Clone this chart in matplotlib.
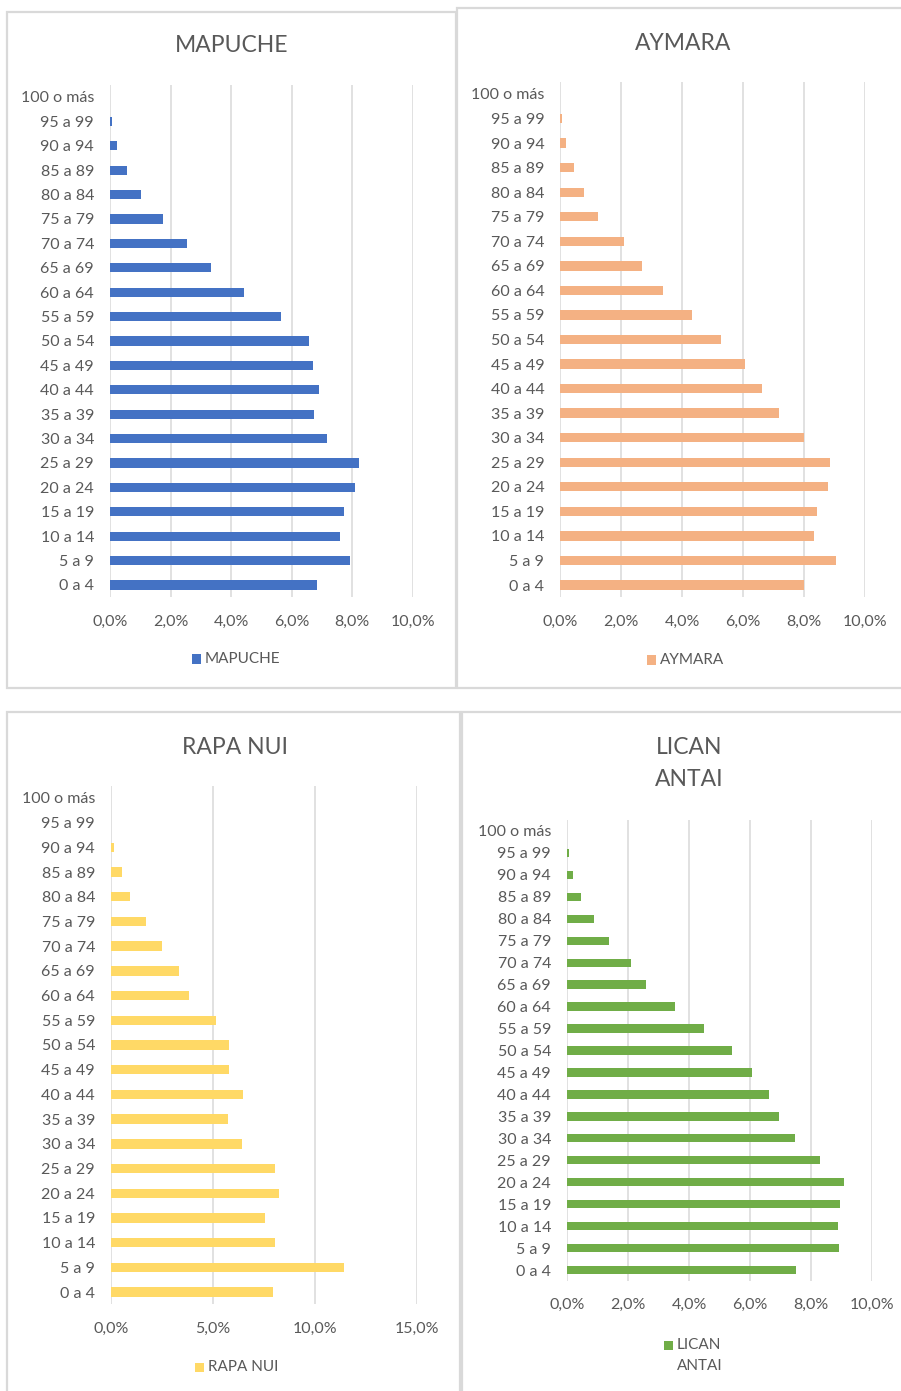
import matplotlib
matplotlib.use("Agg")
import matplotlib.pyplot as plt
from matplotlib.patches import Rectangle
from matplotlib.ticker import FuncFormatter

plt.rcParams['font.family'] = ['Lato', 'DejaVu Sans']

age_groups = ["0 a 4", "5 a 9", "10 a 14", "15 a 19", "20 a 24", "25 a 29",
              "30 a 34", "35 a 39", "40 a 44", "45 a 49", "50 a 54", "55 a 59",
              "60 a 64", "65 a 69", "70 a 74", "75 a 79", "80 a 84", "85 a 89",
              "90 a 94", "95 a 99", "100 o más"]

# Share of population (%) by age group, youngest first
mapuche = [6.84, 7.93, 7.59, 7.74, 8.09, 8.22, 7.16, 6.75, 6.91, 6.72, 6.59,
           5.65, 4.44, 3.34, 2.53, 1.75, 1.03, 0.56, 0.22, 0.05, 0.0]
aymara = [8.02, 9.06, 8.34, 8.43, 8.78, 8.87, 8.02, 7.19, 6.63, 6.07, 5.29,
          4.33, 3.36, 2.67, 2.09, 1.24, 0.78, 0.44, 0.19, 0.04, 0.0]
rapa_nui = [7.94, 11.44, 8.07, 7.56, 8.25, 8.07, 6.43, 5.73, 6.48, 5.78, 5.78,
            5.17, 3.83, 3.34, 2.50, 1.72, 0.92, 0.54, 0.13, 0.0, 0.0]
lican_antai = [7.51, 8.92, 8.89, 8.95, 9.07, 8.30, 7.48, 6.95, 6.63, 6.08, 5.42,
               4.48, 3.54, 2.58, 2.11, 1.37, 0.90, 0.46, 0.21, 0.05, 0.0]

W, H = 901, 1391
TXT = "#595959"
GRID = "#d9d9d9"

fig = plt.figure(figsize=(W / 100, H / 100), dpi=100)
fig.patch.set_facecolor("white")


def fx(x):
    return x / W


def fy(y):
    return 1 - y / H


def frame(x0, y0, x1, y1):
    fig.patches.append(Rectangle((fx(x0), fy(y1)), fx(x1) - fx(x0), fy(y0) - fy(y1),
                                 transform=fig.transFigure, fill=False,
                                 edgecolor=GRID, linewidth=1.6, zorder=0))


pct = FuncFormatter(lambda v, _: f"{v:.1f}%".replace(".", ","))

panels = [
    # name, values, color, frame, axes box (left, top, right, bottom), xmax, step,
    # title x, title lines y, legend (square left, text lines y)
    ("MAPUCHE", mapuche, "#4472C4", (7, 12, 456, 688),
     (110, 84.8, 412.7, 597.2), 10, 2, 232, [46], (192, [659])),
    ("AYMARA", aymara, "#F4B183", (457, 8, 903, 688),
     (560.3, 81.7, 864.7, 597.3), 10, 2, 683, [43], (647, [660])),
    ("RAPA NUI", rapa_nui, "#FFD966", (7, 712, 460, 1393),
     (111, 785.6, 416.5, 1304.4), 15, 5, 234.5, [747], (195, [1367])),
    ("LICAN\nANTAI", lican_antai, "#70AD47", (462, 712, 903, 1393),
     (567, 820, 872, 1281), 10, 2, 689, [747, 780], (664, [1345, 1366])),
]

FS = 11.5
SQ = 9  # legend key size in pixels

for name, vals, color, fr, box, xmax, step, tx, title_ys, leg in panels:
    frame(*fr)
    l, t, r, b = box
    ax = fig.add_axes([fx(l), fy(b), fx(r) - fx(l), fy(t) - fy(b)])
    ypos = list(range(len(age_groups)))
    ax.barh(ypos, vals, height=0.38, color=color, zorder=3)
    ax.set_ylim(-0.5, len(age_groups) - 0.5)
    ax.set_xlim(0, xmax)
    ax.set_xticks(list(range(0, xmax + 1, step)))
    ax.xaxis.set_major_formatter(pct)
    ax.set_yticks(ypos)
    ax.set_yticklabels(age_groups)
    for s in ax.spines.values():
        s.set_visible(False)
    ax.grid(axis="x", color=GRID, linewidth=1.1, zorder=0)
    ax.tick_params(axis="y", length=0, pad=11.5, labelsize=FS, labelcolor=TXT)
    ax.tick_params(axis="x", length=0, pad=12.5, labelsize=FS, labelcolor=TXT)
    ax.set_facecolor("none")

    for line, ty in zip(name.split("\n"), title_ys):
        fig.text(fx(tx), fy(ty), line, ha="center", va="center",
                 fontsize=16.5, color=TXT)

    # legend: colour key beside the series name
    sq_left, text_ys = leg
    key_y = text_ys[0]
    fig.patches.append(Rectangle((fx(sq_left), fy(key_y + SQ / 2)), SQ / W, SQ / H,
                                 transform=fig.transFigure, facecolor=color,
                                 edgecolor="none"))
    for line, ly in zip(name.split("\n"), text_ys):
        fig.text(fx(sq_left + SQ + 4), fy(ly), line, ha="left", va="center",
                 fontsize=11, color=TXT)

fig.savefig("out.png", dpi=100, facecolor="white")
